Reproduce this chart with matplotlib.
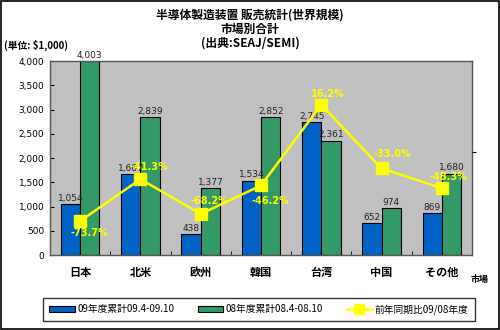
import numpy as np
import matplotlib.pyplot as plt
from matplotlib.lines import Line2D
from matplotlib.patches import Patch, Rectangle

plt.rcParams['font.family'] = ['Noto Sans CJK JP', 'DejaVu Sans']

markets = ["日本", "北米", "欧州", "韓国", "台湾", "中国", "その他"]
sales_09 = [1054, 1667, 438, 1534, 2745, 652, 869]
sales_08 = [4003, 2839, 1377, 2852, 2361, 974, 1680]
yoy = [-73.7, -41.3, -68.2, -46.2, 16.2, -33.0, -48.3]
yoy_labels = ["-73.7%", "-41.3%", "-68.2%", "-46.2%", "16.2%", "-33.0%", "-48.3%"]
# label offsets from each marker, in pixels
yoy_offsets = [(9, -12), (9, 12), (9, 13), (9, -16), (7, 11), (11, 14), (7, 11)]

blue = "#0062C4"
green = "#339966"
yellow = "#FFFF00"

fig = plt.figure(figsize=(5, 3.3), dpi=100)
ax = fig.add_axes([0.1, 0.227, 0.844, 0.588])
ax.set_facecolor("#C0C0C0")

x = np.arange(len(markets))
w = 0.32
ax.bar(x - w / 2, sales_09, w, color=blue, edgecolor="black", linewidth=0.8, zorder=2)
ax.bar(x + w / 2, sales_08, w, color=green, edgecolor="black", linewidth=0.8, zorder=2)

for xi, v in zip(x, sales_09):
    ax.text(xi - w / 2, v + 25, f"{v:,}", ha="center", va="bottom", fontsize=6.5,
            color="#222222", family="DejaVu Sans")
for xi, v in zip(x, sales_08):
    ax.text(xi + w / 2, v + 25, f"{v:,}", ha="center", va="bottom", fontsize=6.5,
            color="#222222", family="DejaVu Sans")

ax.set_xlim(-0.5, len(markets) - 0.5)
ax.set_ylim(0, 4000)
ax.set_yticks(np.arange(0, 4001, 500))
ax.set_yticklabels([f"{v:,}" for v in range(0, 4001, 500)], fontsize=6.5,
                   family="DejaVu Sans")
ax.set_xticks(x)
ax.set_xticklabels(markets, fontsize=8, fontweight="bold")
ax.set_xticks(np.arange(-0.5, len(markets)), minor=True)
ax.tick_params(axis="x", which="major", length=0, pad=8)
ax.tick_params(axis="x", which="minor", length=3, direction="in")
ax.tick_params(axis="y", length=3, direction="in", pad=4)
for s in ax.spines.values():
    s.set_color("#555555")
    s.set_linewidth(1)

# year-over-year ratio on a second scale
ax2 = ax.twinx()
ax2.set_ylim(-100, 50)
ax2.plot(x, yoy, color=yellow, linewidth=1.8, marker="s", markersize=8,
         markeredgecolor=yellow, zorder=5)
for xi, v, lab, off in zip(x, yoy, yoy_labels, yoy_offsets):
    ax2.annotate(lab, (xi, v), xytext=off, textcoords="offset pixels",
                 ha="center", va="center", fontsize=7, fontweight="bold",
                 color=yellow, family="DejaVu Sans")
ax2.set_yticks([-20])
ax2.set_yticklabels([])
ax2.tick_params(axis="y", length=3, direction="out")
for s in ax2.spines.values():
    s.set_visible(False)

fig.text(0.5, 0.955, "半導体製造装置 販売統計(世界規模)", ha="center", va="center",
         fontsize=8.5, fontweight="bold")
fig.text(0.5, 0.912, "市場別合計", ha="center", va="center", fontsize=8.5, fontweight="bold")
fig.text(0.5, 0.869, "(出典:SEAJ/SEMI)", ha="center", va="center", fontsize=8.5,
         fontweight="bold")
fig.text(0.008, 0.862, "(単位: $1,000)", ha="left", va="center", fontsize=7,
         fontweight="bold")
fig.text(0.96, 0.153, "市場", ha="center", va="center", fontsize=6.5, fontweight="bold")

handles = [
    Patch(facecolor=blue, edgecolor="black", linewidth=0.8),
    Patch(facecolor=green, edgecolor="black", linewidth=0.8),
    Line2D([], [], color=yellow, linewidth=1.8, marker="s", markersize=7),
]
labels = ["09年度累計09.4-09.10", "08年度累計08.4-08.10", "前年同期比09/08年度"]
leg = fig.legend(handles, labels, loc="center", bbox_to_anchor=(0.518, 0.062),
                 ncol=3, fontsize=7, frameon=True, fancybox=False,
                 handlelength=2.6, handleheight=0.6, columnspacing=2.4,
                 borderpad=0.6, handletextpad=0.3)
leg.get_frame().set_edgecolor("black")
leg.get_frame().set_linewidth(1)

fig.patches.append(Rectangle((0.001, 0.002), 0.997, 0.995, transform=fig.transFigure,
                             fill=False, edgecolor="black", linewidth=1.2))

fig.savefig("out.png", dpi=100)
